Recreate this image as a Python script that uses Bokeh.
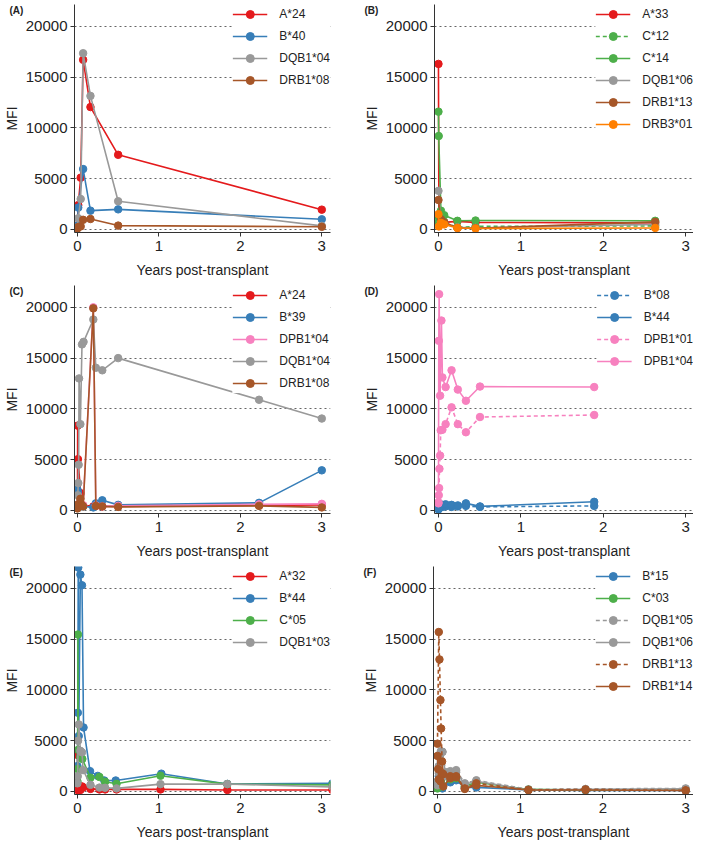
from bokeh.plotting import figure
from bokeh.layouts import column, row
from bokeh.models import FixedTicker, Range1d, Legend, LegendItem, Label
from bokeh.embed import file_html
from bokeh.resources import INLINE

# ---------------- data (years post-transplant, MFI) ----------------
# Panel A
pa_a24_yr = [0, 0.01, 0.04, 0.07, 0.16, 0.5, 3.0]
pa_a24_mfi = [400, 2400, 5100, 16700, 12050, 7350, 1950]
pa_b40_yr = [0, 0.01, 0.07, 0.16, 0.5, 3.0]
pa_b40_mfi = [400, 2150, 5950, 1850, 1980, 1000]
pa_dqb104_yr = [0, 0.01, 0.04, 0.07, 0.16, 0.5, 3.0]
pa_dqb104_mfi = [200, 1100, 3000, 17350, 13150, 2780, 350]
pa_drb108_yr = [0, 0.01, 0.04, 0.07, 0.16, 0.5, 3.0]
pa_drb108_mfi = [100, 250, 300, 950, 1030, 380, 260]

# Panel B
pb_a33_yr = [0, 0.005, 0.03, 0.07, 0.23, 0.45, 2.63]
pb_a33_mfi = [16300, 1300, 1100, 700, 800, 700, 650]
pb_c12_yr = [0, 0.005, 0.03, 0.07, 0.23, 0.45, 2.63]
pb_c12_mfi = [700, 1200, 900, 700, 200, 300, 350]
pb_c14_yr = [0, 0.003, 0.03, 0.07, 0.23, 0.45, 2.63]
pb_c14_mfi = [11600, 9200, 1850, 1400, 850, 880, 850]
pb_dqb106_yr = [0, 0.03, 0.07, 0.23, 0.45, 2.63]
pb_dqb106_mfi = [3800, 800, 600, 200, 150, 500]
pb_drb113_yr = [0, 0.03, 0.07, 0.23, 0.45, 2.63]
pb_drb113_mfi = [2900, 1000, 700, 150, 120, 750]
pb_drb301_yr = [0, 0.005, 0.03, 0.07, 0.23, 0.45, 2.63]
pb_drb301_mfi = [1500, 300, 650, 500, 150, 100, 150]

# Panel C
pc_a24_yr = [0, 0.003, 0.006, 0.04, 0.07, 0.195, 0.226, 0.305, 0.5, 2.23, 3.0]
pc_a24_mfi = [500, 8350, 5050, 1700, 500, 400, 450, 400, 400, 500, 550]
pc_b39_yr = [0, 0.005, 0.04, 0.07, 0.195, 0.226, 0.305, 0.5, 2.23, 3.0]
pc_b39_mfi = [2050, 1800, 600, 400, 300, 700, 1000, 550, 750, 3950]
pc_dpb104_yr = [0, 0.01, 0.04, 0.07, 0.195, 0.226, 0.305, 0.5, 2.23, 3.0]
pc_dpb104_mfi = [300, 400, 500, 500, 20000, 500, 400, 450, 600, 650]
pc_dqb104_yr = [0, 0.005, 0.01, 0.015, 0.02, 0.036, 0.056, 0.075, 0.195, 0.226, 0.305, 0.5, 2.23, 3.0]
pc_dqb104_mfi = [500, 1500, 2700, 4500, 13000, 8500, 16350, 16600, 18800, 14050, 13800, 15000, 10900, 9050]
pc_drb108_yr = [0, 0.01, 0.036, 0.056, 0.07, 0.195, 0.226, 0.305, 0.5, 2.23, 3.0]
pc_drb108_mfi = [200, 600, 1150, 500, 400, 19900, 450, 400, 350, 450, 300]

# Panel D
pd_b08_yr = [0, 0.02, 0.048, 0.087, 0.159, 0.235, 0.333, 0.504, 1.89]
pd_b08_mfi = [100, 300, 350, 400, 350, 400, 450, 350, 450]
pd_b44_yr = [0, 0.02, 0.048, 0.087, 0.159, 0.235, 0.333, 0.504, 1.89]
pd_b44_mfi = [200, 450, 550, 600, 550, 500, 700, 400, 850]
pd_dpb101_yr = [0, 0.004, 0.008, 0.012, 0.02, 0.028, 0.048, 0.087, 0.159, 0.235, 0.333, 0.504, 1.89]
pd_dpb101_mfi = [700, 1500, 2200, 4100, 5400, 7900, 7950, 8500, 10150, 8500, 7700, 9200, 9400]
pd_dpb104_yr = [0, 0.004, 0.008, 0.02, 0.036, 0.048, 0.087, 0.159, 0.235, 0.333, 0.504, 1.89]
pd_dpb104_mfi = [800, 16700, 21300, 11300, 18700, 13100, 12150, 13800, 11900, 10800, 12200, 12150]

# Panel E
pe_a32_yr = [0, 0.004, 0.01, 0.036, 0.056, 0.07, 0.16, 0.27, 0.34, 0.48, 1.02, 1.84, 3.13]
pe_a32_mfi = [3600, 300, 100, 150, 500, 400, 250, 200, 200, 200, 200, 150, 150]
pe_b44_yr = [0, 0.005, 0.01, 0.016, 0.036, 0.056, 0.075, 0.155, 0.25, 0.33, 0.47, 1.03, 1.84, 3.13]
pe_b44_mfi = [2500, 7750, 22050, 5450, 21350, 20300, 6300, 2000, 1530, 1080, 1080, 1750, 740, 800]
pe_c05_yr = [0, 0.003, 0.006, 0.01, 0.036, 0.06, 0.16, 0.27, 0.34, 0.48, 1.02, 1.84, 3.13]
pe_c05_mfi = [1000, 2200, 15450, 4100, 3400, 3200, 1350, 1430, 960, 750, 1550, 720, 650]
pe_dqb103_yr = [0, 0.004, 0.008, 0.016, 0.036, 0.056, 0.07, 0.16, 0.27, 0.34, 0.48, 1.02, 1.84, 3.13]
pe_dqb103_mfi = [800, 1500, 5000, 6600, 4000, 3850, 2100, 650, 380, 360, 300, 720, 730, 450]

# Panel F
pf_b15_yr = [0, 0.016, 0.04, 0.06, 0.155, 0.226, 0.33, 0.47, 1.1, 1.79, 3.0]
pf_b15_mfi = [500, 1500, 900, 300, 900, 1100, 400, 400, 150, 100, 100]
pf_c03_yr = [0, 0.016, 0.04, 0.06, 0.155, 0.226, 0.33, 0.47, 1.1, 1.79, 3.0]
pf_c03_mfi = [300, 800, 1100, 500, 1200, 1300, 500, 900, 200, 150, 150]
pf_dqb105_yr = [0, 0.016, 0.04, 0.06, 0.1, 0.155, 0.226, 0.33, 0.47, 1.1, 1.79, 3.0]
pf_dqb105_mfi = [1000, 2500, 3950, 3900, 1900, 2000, 2100, 800, 1100, 200, 250, 300]
pf_dqb106_yr = [0, 0.016, 0.04, 0.06, 0.1, 0.155, 0.226, 0.33, 0.47, 1.1, 1.79, 3.0]
pf_dqb106_mfi = [600, 1800, 3000, 3900, 1500, 1800, 1900, 700, 1000, 150, 200, 250]
pf_drb113_yr = [0, 0.016, 0.024, 0.036, 0.044, 0.056, 0.07, 0.155, 0.226, 0.33, 0.47, 1.1, 1.79, 3.0]
pf_drb113_mfi = [4700, 15700, 13000, 9000, 6200, 2950, 1700, 1500, 1500, 300, 800, 150, 200, 100]
pf_drb114_yr = [0, 0.008, 0.016, 0.036, 0.056, 0.07, 0.155, 0.226, 0.33, 0.47, 1.1, 1.79, 3.0]
pf_drb114_mfi = [3500, 2200, 1200, 1000, 1800, 500, 1300, 1400, 250, 600, 150, 150, 100]

y_ticks = [0, 5000, 10000, 15000, 20000]
x_ticks = [0, 1, 2, 3]

RED = "#e41a1c"
BLUE = "#377eb8"
GRAY = "#999999"
BROWN = "#a65628"
PINK = "#f781bf"
GREEN = "#4daf4a"
ORANGE = "#ff7f00"
SOLID = "solid"
DASH = "4 3"

panels = [
    ("(A)", True, [("A*24", pa_a24_yr, pa_a24_mfi, RED, SOLID),
                   ("B*40", pa_b40_yr, pa_b40_mfi, BLUE, SOLID),
                   ("DQB1*04", pa_dqb104_yr, pa_dqb104_mfi, GRAY, SOLID),
                   ("DRB1*08", pa_drb108_yr, pa_drb108_mfi, BROWN, SOLID)]),
    ("(B)", False, [("A*33", pb_a33_yr, pb_a33_mfi, RED, SOLID),
                    ("C*12", pb_c12_yr, pb_c12_mfi, GREEN, DASH),
                    ("C*14", pb_c14_yr, pb_c14_mfi, GREEN, SOLID),
                    ("DQB1*06", pb_dqb106_yr, pb_dqb106_mfi, GRAY, SOLID),
                    ("DRB1*13", pb_drb113_yr, pb_drb113_mfi, BROWN, SOLID),
                    ("DRB3*01", pb_drb301_yr, pb_drb301_mfi, ORANGE, SOLID)]),
    ("(C)", True, [("A*24", pc_a24_yr, pc_a24_mfi, RED, SOLID),
                   ("B*39", pc_b39_yr, pc_b39_mfi, BLUE, SOLID),
                   ("DPB1*04", pc_dpb104_yr, pc_dpb104_mfi, PINK, SOLID),
                   ("DQB1*04", pc_dqb104_yr, pc_dqb104_mfi, GRAY, SOLID),
                   ("DRB1*08", pc_drb108_yr, pc_drb108_mfi, BROWN, SOLID)]),
    ("(D)", False, [("B*08", pd_b08_yr, pd_b08_mfi, BLUE, DASH),
                    ("B*44", pd_b44_yr, pd_b44_mfi, BLUE, SOLID),
                    ("DPB1*01", pd_dpb101_yr, pd_dpb101_mfi, PINK, DASH),
                    ("DPB1*04", pd_dpb104_yr, pd_dpb104_mfi, PINK, SOLID)]),
    ("(E)", True, [("A*32", pe_a32_yr, pe_a32_mfi, RED, SOLID),
                   ("B*44", pe_b44_yr, pe_b44_mfi, BLUE, SOLID),
                   ("C*05", pe_c05_yr, pe_c05_mfi, GREEN, SOLID),
                   ("DQB1*03", pe_dqb103_yr, pe_dqb103_mfi, GRAY, SOLID)]),
    ("(F)", False, [("B*15", pf_b15_yr, pf_b15_mfi, BLUE, SOLID),
                    ("C*03", pf_c03_yr, pf_c03_mfi, GREEN, SOLID),
                    ("DQB1*05", pf_dqb105_yr, pf_dqb105_mfi, GRAY, DASH),
                    ("DQB1*06", pf_dqb106_yr, pf_dqb106_mfi, GRAY, SOLID),
                    ("DRB1*13", pf_drb113_yr, pf_drb113_mfi, BROWN, DASH),
                    ("DRB1*14", pf_drb114_yr, pf_drb114_mfi, BROWN, SOLID)]),
]

FONT = "Liberation Sans"
FIG_H = 281
TOP = 4
BOTTOM = 49
Y_RANGE = (-300, 22150)


def make_fig(letter, is_left, series):
    if is_left:
        w, bl, br, xr = 346, 66, 16, (-0.036, 3.107)
    else:
        w, bl, br, xr = 347, 83, 0, (-0.048, 3.095)
    p = figure(width=w, height=FIG_H, output_backend="svg", toolbar_location=None,
               x_range=Range1d(*xr), y_range=Range1d(*Y_RANGE),
               min_border_left=bl, min_border_right=br,
               min_border_top=TOP, min_border_bottom=BOTTOM)
    p.outline_line_color = None
    p.background_fill_color = "white"
    p.border_fill_color = "white"
    p.xgrid.grid_line_color = None
    p.ygrid.grid_line_color = "#666666"
    p.ygrid.grid_line_dash = "2 3"
    p.ygrid.grid_line_width = 1
    p.xaxis.ticker = FixedTicker(ticks=x_ticks)
    p.yaxis.ticker = FixedTicker(ticks=y_ticks)
    p.ygrid.ticker = FixedTicker(ticks=y_ticks)
    p.xaxis.axis_label = "Years post-transplant"
    p.yaxis.axis_label = "MFI"
    for ax in (p.xaxis, p.yaxis):
        ax.major_label_text_font = FONT
        ax.major_label_text_font_size = "15px"
        ax.major_label_text_color = "#222222"
        ax.axis_label_text_font = FONT
        ax.axis_label_text_font_size = "14px"
        ax.axis_label_text_font_style = "normal"
        ax.axis_label_text_color = "#222222"
        ax.minor_tick_line_color = None
        ax.major_tick_in = 0
        ax.major_tick_out = 4
        ax.axis_line_color = "#333333"
        ax.major_tick_line_color = "#333333"
    p.yaxis.major_label_standoff = 3
    p.yaxis.axis_label_standoff = 3
    p.xaxis.major_label_standoff = 4
    p.xaxis.axis_label_standoff = 8

    items = []
    for label, xs, ys, color, dash in series:
        lr = p.line(xs, ys, line_color=color, line_width=1.6, line_dash=dash)
        sr = p.scatter(xs, ys, marker="circle", size=7.5, fill_color=color, line_color=color)
        items.append(LegendItem(label=label, renderers=[lr, sr]))
    leg = Legend(items=items, location="top_right")
    leg.background_fill_color = "white"
    leg.background_fill_alpha = 1.0
    leg.border_line_color = None
    leg.label_text_font = FONT
    leg.label_text_font_size = "12px"
    leg.label_text_color = "#222222"
    leg.glyph_width = 35
    leg.glyph_height = 20
    leg.label_height = 20
    leg.spacing = 2
    leg.padding = 4
    leg.margin = 0
    leg.label_standoff = 12
    p.add_layout(leg)

    # panel letter: anchored at the frame's top-left corner, shifted left by pixels;
    # put in a side panel that has spare room so it is not clipped to the frame
    shift = (bl - 1) if is_left else (bl - 13)
    lab = Label(x=xr[0], y=Y_RANGE[1], x_offset=-shift, y_offset=0,
                text=letter, text_font=FONT, text_font_size="10px",
                text_font_style="bold", text_baseline="top", text_color="#222222")
    p.add_layout(lab, "right" if is_left else "left")
    return p


figs = [make_fig(l, left, s) for l, left, s in panels]
layout = column(row(figs[0], figs[1]), row(figs[2], figs[3]), row(figs[4], figs[5]))

open("out.html", "w").write(file_html(layout, INLINE))
